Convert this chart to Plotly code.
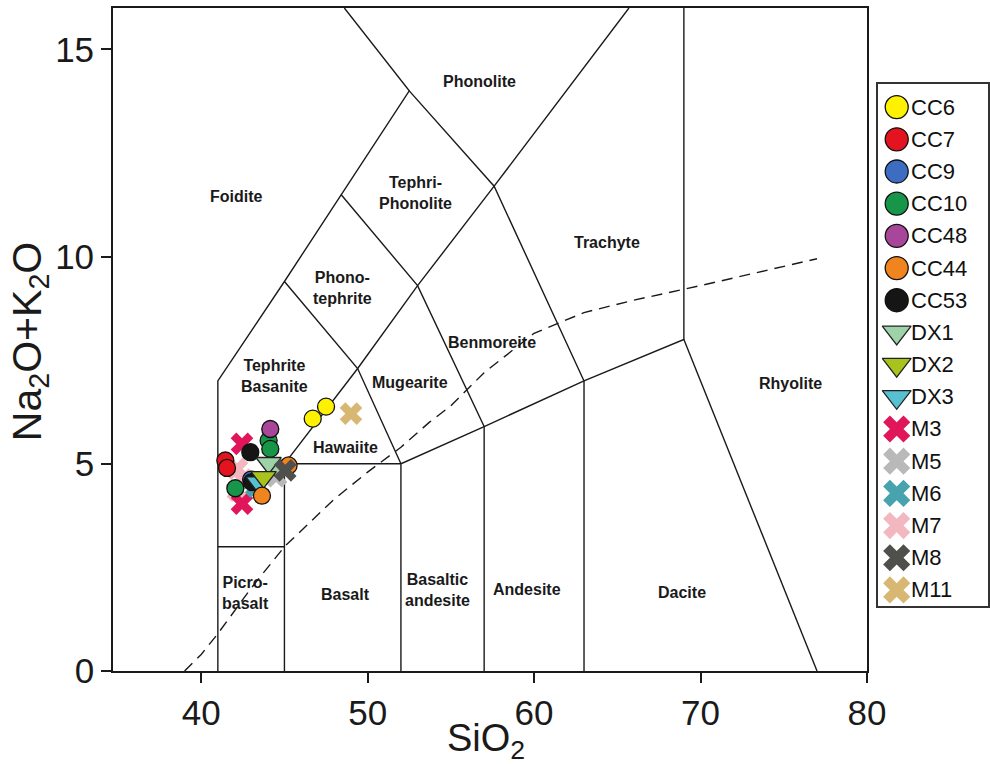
import plotly.graph_objects as go

# ---------------- data ----------------
series_names = ["CC6", "CC7", "CC9", "CC10", "CC48", "CC44", "CC53", "DX1", "DX2", "DX3",
                "M3", "M5", "M6", "M7", "M8", "M11"]
series_colors = ["#FFF200", "#E3141F", "#3C6DC3", "#17964A", "#A8479A", "#F0841E", "#151515",
                 "#9ED3A9", "#A9C21E", "#58C1D1", "#E0155A", "#B9B9B9", "#47A3AE", "#F3B7BF",
                 "#4F4F4B", "#D8B772"]
series_kinds = ["circle"] * 7 + ["triangle"] * 3 + ["x"] * 6

CC6_x = [46.7, 47.5];             CC6_y = [6.09, 6.38]
CC7_x = [41.45, 41.55];           CC7_y = [5.08, 4.90]
CC9_x = [43.0];                   CC9_y = [4.62]
CC10_x = [42.05, 44.05, 44.15];   CC10_y = [4.41, 5.56, 5.36]
CC48_x = [44.15];                 CC48_y = [5.84]
CC44_x = [43.65, 45.25];          CC44_y = [4.23, 4.96]
CC53_x = [42.95, 43.05];          CC53_y = [5.28, 4.56]
DX1_x = [44.5, 44.05];            DX1_y = [4.95, 5.02]
DX2_x = [43.75];                  DX2_y = [4.68]
DX3_x = [43.45];                  DX3_y = [4.55]
M3_x = [42.45, 42.45];            M3_y = [5.48, 4.04]
M5_x = [44.5];                    M5_y = [4.70]
M6_x = [43.3];                    M6_y = [4.45]
M7_x = [42.15, 42.2, 42.5];       M7_y = [4.88, 4.35, 4.62]
M8_x = [45.05];                   M8_y = [4.84]
M11_x = [49.0];                   M11_y = [6.21]

series_x = [CC6_x, CC7_x, CC9_x, CC10_x, CC48_x, CC44_x, CC53_x, DX1_x, DX2_x, DX3_x,
            M3_x, M5_x, M6_x, M7_x, M8_x, M11_x]
series_y = [CC6_y, CC7_y, CC9_y, CC10_y, CC48_y, CC44_y, CC53_y, DX1_y, DX2_y, DX3_y,
            M3_y, M5_y, M6_y, M7_y, M8_y, M11_y]
# drawing order (back to front)
draw_order = ["M7", "M3", "M5", "M6", "CC9", "CC10", "CC7", "CC48", "CC53", "DX3", "DX1",
              "DX2", "CC44", "M8", "CC6", "M11"]

# TAS field boundaries (SiO2, Na2O+K2O)
boundaries = [
    ([41, 41, 45, 48.4, 52.5, 48.6], [0, 7, 9.4, 11.5, 14, 16]),
    ([41, 45], [3, 3]),
    ([45, 45, 52], [0, 5, 5]),
    ([45, 49.4, 53, 57.6, 65.7], [5, 7.3, 9.3, 11.7, 16]),
    ([52, 52, 57, 63, 69, 69], [0, 5, 5.9, 7, 8, 16]),
    ([57, 57], [0, 5.9]),
    ([63, 63], [0, 7]),
    ([69, 77], [8, 0]),
    ([45, 49.4, 52], [9.4, 7.3, 5]),
    ([48.4, 53, 57], [11.5, 9.3, 5.9]),
    ([52.5, 57.6, 63], [14, 11.7, 7]),
]
# Irvine & Baragar alkaline / subalkaline divide
divide_x = [39.0, 40, 41, 43, 45, 48, 50, 52, 53.7, 55, 57, 60, 63, 66, 70, 77]
divide_y = [0, 0.4, 0.9, 2.0, 3.0, 4.15, 4.8, 5.4, 6.0, 6.4, 7.2, 8.15, 8.65, 8.95, 9.3, 9.95]

field_names = ["Phonolite", "Foidite", "Tephri-<br>Phonolite", "Trachyte", "Phono-<br>tephrite",
               "Benmoreite", "Tephrite<br>Basanite", "Mugearite", "Rhyolite", "Hawaiite",
               "Picro-<br>basalt", "Basalt", "Basaltic<br>andesite", "Andesite", "Dacite"]
field_x = [56.7, 42.1, 52.85, 64.4, 48.5, 57.5, 44.4, 52.55, 75.4, 48.65, 42.64, 48.65, 54.2, 59.6, 68.9]
field_y = [14.23, 11.44, 11.53, 10.35, 9.25, 7.92, 7.13, 6.96, 6.93, 5.39, 1.88, 1.85, 1.95, 1.97, 1.9]

x_ticks = [40, 50, 60, 70, 80]
y_ticks = [0, 5, 10, 15]
x_title = "SiO<sub>2</sub>"
y_title = "Na<sub>2</sub>O+K<sub>2</sub>O"

FONT = "Arial, Liberation Sans, Helvetica, sans-serif"

fig = go.Figure()

for bx, by in boundaries:
    fig.add_trace(go.Scatter(x=bx, y=by, mode="lines", line=dict(color="#1a1a1a", width=1.4),
                             showlegend=False, hoverinfo="skip"))
fig.add_trace(go.Scatter(x=divide_x, y=divide_y, mode="lines",
                         line=dict(color="#1a1a1a", width=1.4, dash="11px,7px"),
                         showlegend=False, hoverinfo="skip"))


def marker_style(kind, color, big=False):
    if kind == "circle":
        return dict(symbol="circle", size=23 if big else 17, color=color,
                    line=dict(color="#111", width=1.3))
    if kind == "triangle":
        return dict(symbol="triangle-down", size=25 if big else 22, color=color,
                    line=dict(color="#222", width=1.3))
    return dict(symbol="x", size=24 if big else 20, color=color, line=dict(width=0))


for name in draw_order:
    i = series_names.index(name)
    fig.add_trace(go.Scatter(x=series_x[i], y=series_y[i], mode="markers", name=name,
                             marker=marker_style(series_kinds[i], series_colors[i]),
                             showlegend=False))

# custom legend drawn on its own axes
for i, name in enumerate(series_names):
    fig.add_trace(go.Scatter(x=[0.17], y=[i], mode="markers", xaxis="x2", yaxis="y2",
                             marker=marker_style(series_kinds[i], series_colors[i], big=True),
                             showlegend=False, hoverinfo="skip"))
    fig.add_annotation(x=0.285, y=i, xref="x2", yref="y2", text=name, showarrow=False,
                       xanchor="left", yanchor="middle",
                       font=dict(family=FONT, size=22, color="#111"))

for t, fx, fy in zip(field_names, field_x, field_y):
    fig.add_annotation(x=fx, y=fy, text="<b>" + t + "</b>", showarrow=False,
                       font=dict(family=FONT, size=16, color="#1a1a1a"))

# axis titles
fig.add_annotation(x=0.4253, y=-0.066, xref="paper", yref="paper", text=x_title,
                   showarrow=False, xanchor="center", yanchor="top",
                   font=dict(family=FONT, size=38, color="#1a1a1a"))
fig.add_annotation(x=-0.0946, y=0.496, xref="paper", yref="paper", text=y_title,
                   showarrow=False, xanchor="center", yanchor="middle", textangle=-90,
                   font=dict(family=FONT, size=41, color="#1a1a1a"))

fig.update_layout(
    width=990, height=764, autosize=False,
    margin=dict(l=113, r=0, t=8, b=93, pad=0, autoexpand=False),
    paper_bgcolor="white", plot_bgcolor="white",
    font=dict(family=FONT, color="#1a1a1a"),
    xaxis=dict(domain=[0, 0.8597], range=[34.7, 80], tickvals=x_ticks, automargin=False,
               showgrid=False, zeroline=False, showline=True, mirror=True,
               linecolor="#1a1a1a", linewidth=1.8, ticks="outside", ticklen=10,
               tickwidth=1.5, tickcolor="#1a1a1a", tickfont=dict(size=35, family=FONT)),
    yaxis=dict(range=[0, 16], tickvals=y_ticks, showgrid=False, zeroline=False, automargin=False,
               showline=True, mirror=True, linecolor="#1a1a1a", linewidth=1.8,
               ticks="outside", ticklen=10, tickwidth=1.5, tickcolor="#1a1a1a",
               tickfont=dict(size=35, family=FONT)),
    xaxis2=dict(domain=[0.8723, 0.9977], range=[0, 1], anchor="y2", showgrid=False,
                zeroline=False, showticklabels=False, ticks="", showline=True, mirror=True,
                linecolor="#333", linewidth=1.5, fixedrange=True, automargin=False),
    yaxis2=dict(domain=[0.098, 0.885], range=[15.5, -0.71], anchor="x2", showgrid=False,
                zeroline=False, showticklabels=False, ticks="", showline=True, mirror=True,
                linecolor="#333", linewidth=1.5, fixedrange=True, automargin=False),
    showlegend=False,
)

fig.write_html("out.html", config={"displayModeBar": False},
               post_script="document.body.style.margin='0';document.body.style.overflow='hidden';")
